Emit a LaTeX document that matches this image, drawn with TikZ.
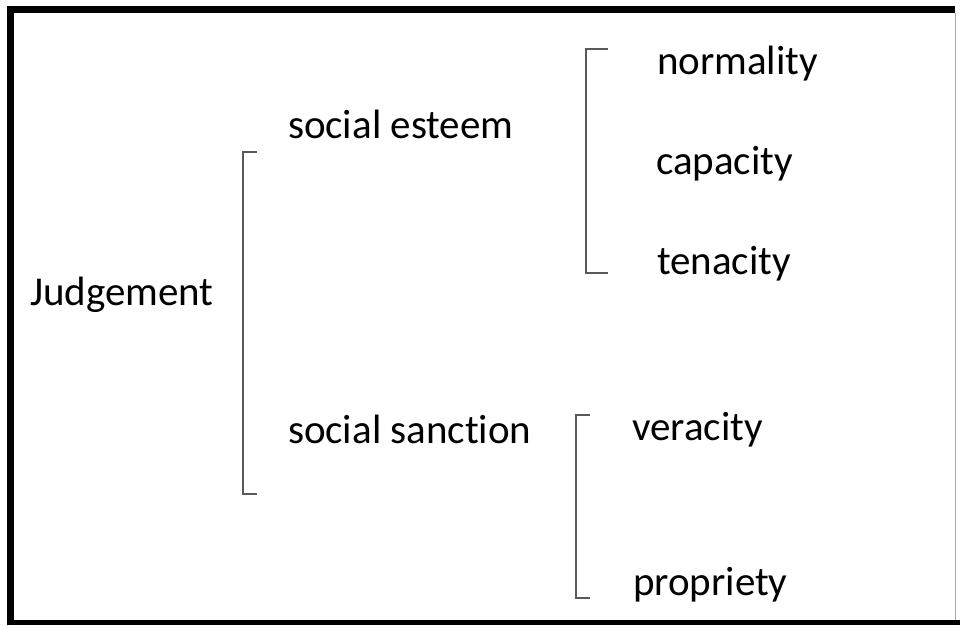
\documentclass[tikz,border=0pt]{standalone}
\usepackage{fontspec}
\setmainfont[Ligatures=NoCommon]{Carlito}
\begin{document}
\begin{tikzpicture}[x=1pt,y=-1pt,
  label/.style={anchor=base west,inner sep=0pt,outer sep=0pt,font=\fontsize{41}{49}\selectfont},
  brace/.style={draw=black!65,line width=1.8pt,line join=miter}]
\useasboundingbox (0,0) rectangle (960,625);
\fill[white] (0,0) rectangle (960,625);
% frame
\fill[black] (7,6) rectangle (14,625);
\fill[black] (7,6) rectangle (955,13);
\fill[black] (7,620) rectangle (960,625);
\draw[black!35,line width=1pt] (955.5,13) -- (955.5,620);
% labels
\node[label] (judg) at (30,305) {Judgement};
\node[label] (este) at (288,138) {social esteem};
\node[label] (sanc) at (288,443) {social sanction};
\node[label] (norm) at (657,74) {normality};
\node[label] (capa) at (656,174) {capacity};
\node[label] (tena) at (657,274) {tenacity};
\node[label] (vera) at (632,440) {veracity};
\node[label] (prop) at (633,595) {propriety};
% brackets
\coordinate (b1t) at (257,152); \coordinate (b1b) at (257,494);
\coordinate (b2t) at (608,49);  \coordinate (b2b) at (608,273);
\coordinate (b3t) at (590,415); \coordinate (b3b) at (590,598);
\draw[brace] (b1t) -- (243,152) -- (243,494) -- (b1b);
\draw[brace] (b2t) -- (586,49) -- (586,273) -- (b2b);
\draw[brace] (b3t) -- (576,415) -- (576,598) -- (b3b);
\end{tikzpicture}
\end{document}
